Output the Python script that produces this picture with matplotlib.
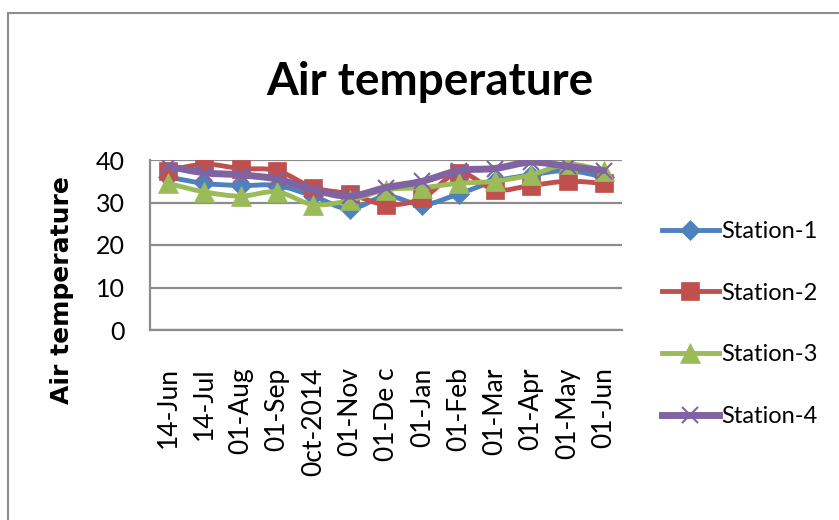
import numpy as np
import matplotlib
matplotlib.use("Agg")
import matplotlib.pyplot as plt
from matplotlib.path import Path
from matplotlib.patches import PathPatch, Rectangle
from matplotlib.lines import Line2D

# ==============================
# Data
# ==============================
months = ["14-Jun", "14-Jul", "01-Aug", "01-Sep", "0ct-2014", "01-Nov", "01-De c",
          "01-Jan", "01-Feb", "01-Mar", "01-Apr", "01-May", "01-Jun"]

station1 = [36.0, 34.5, 34.0, 34.0, 31.5, 28.5, 31.5, 29.5, 32.0, 35.0, 36.5, 37.5, 36.0]
station2 = [37.5, 39.0, 38.0, 37.5, 33.5, 32.0, 29.5, 31.0, 37.0, 33.0, 34.0, 35.0, 34.5]
station3 = [34.5, 32.5, 31.5, 32.5, 29.5, 30.5, 33.0, 33.5, 34.5, 35.0, 36.5, 39.0, 37.5]
station4 = [38.5, 37.0, 36.5, 35.5, 33.0, 31.5, 33.5, 35.0, 37.5, 38.0, 39.5, 38.5, 37.5]

names = ["Station-1", "Station-2", "Station-3", "Station-4"]
colors = ["#4F81BD", "#C0504D", "#9BBB59", "#8064A2"]

FONT = ["Lato", "DejaVu Sans"]


def smooth_path(x, y):
    """Excel-like smoothed line as cubic bezier through the points"""
    pts = np.column_stack([x, y]).astype(float)
    n = len(pts)
    verts = [pts[0]]
    codes = [Path.MOVETO]
    for i in range(n - 1):
        p0 = pts[i - 1] if i > 0 else pts[i]
        p1 = pts[i]
        p2 = pts[i + 1]
        p3 = pts[i + 2] if i + 2 < n else pts[i + 1]
        c1 = p1 + (p2 - p0) / 6.0
        c2 = p2 - (p3 - p1) / 6.0
        verts += [c1, c2, p2]
        codes += [Path.CURVE4] * 3
    return Path(verts, codes)


fig = plt.figure(figsize=(8.39, 5.2), dpi=100)
ax = fig.add_axes([150 / 839, 1 - 330 / 520, 472 / 839, 170 / 520])

# outer chart border (only top / left visible)
fig.patches.append(Rectangle((8 / 839, -0.1), 1.2, 1.1 - 13 / 520, transform=fig.transFigure,
                             fill=False, edgecolor="#8c8c8c", lw=1.5))

x = np.arange(len(months))
series = [station1, station2, station3, station4]
markers = [("D", 10), ("s", 13), ("^", 14), ("x", 12)]
widths = [3.5, 3.5, 3.5, 5]

for i, vals in enumerate(series):
    ax.add_patch(PathPatch(smooth_path(x, vals), fill=False, edgecolor=colors[i],
                           lw=widths[i], zorder=2 + i, capstyle="round"))
    m, ms = markers[i]
    ax.plot(x, vals, linestyle="none", marker=m, markersize=ms, color=colors[i],
            markeredgewidth=1.5 if m == "x" else 0.5, zorder=2 + i)

ax.set_xlim(-0.5, len(months) - 0.5)
ax.set_ylim(0, 40)
ax.set_yticks([0, 10, 20, 30, 40])
ax.set_xticks(x)
ax.set_xticklabels(months, rotation=90, va="top", ha="center", family=FONT, fontsize=19)
ax.tick_params(axis="x", length=0, pad=27)
ax.tick_params(axis="y", length=0, pad=18, labelsize=18)
for lab in ax.get_yticklabels():
    lab.set_family(FONT)
ax.grid(axis="y", color="#8c8c8c", lw=1.6)
ax.set_axisbelow(True)
for s in ["top", "right"]:
    ax.spines[s].set_visible(False)
for s in ["left", "bottom"]:
    ax.spines[s].set_color("#8c8c8c")
    ax.spines[s].set_linewidth(1.6)

# y axis title
fig.text(62 / 839, 1 - 290 / 520, "Air temperature", rotation=90, ha="center", va="center",
         fontsize=18, fontweight="bold", family="DejaVu Sans")

fig.text(430 / 839, 1 - 82 / 520, "Air temperature", ha="center", va="center",
         fontsize=33, fontweight="bold", family=FONT)

handles = [Line2D([0], [0], color=colors[i], lw=widths[i], marker=markers[i][0],
                  markersize=markers[i][1], markeredgewidth=1.5 if markers[i][0] == "x" else 0.5)
           for i in range(4)]
fig.legend(handles, names, loc="center left", bbox_to_anchor=(662 / 839, 1 - 324 / 520),
           frameon=False, prop={"family": FONT, "size": 17}, handlelength=2.4,
           handletextpad=0.1, labelspacing=1.72, borderaxespad=0, borderpad=0)

fig.savefig("out.png", dpi=100)
